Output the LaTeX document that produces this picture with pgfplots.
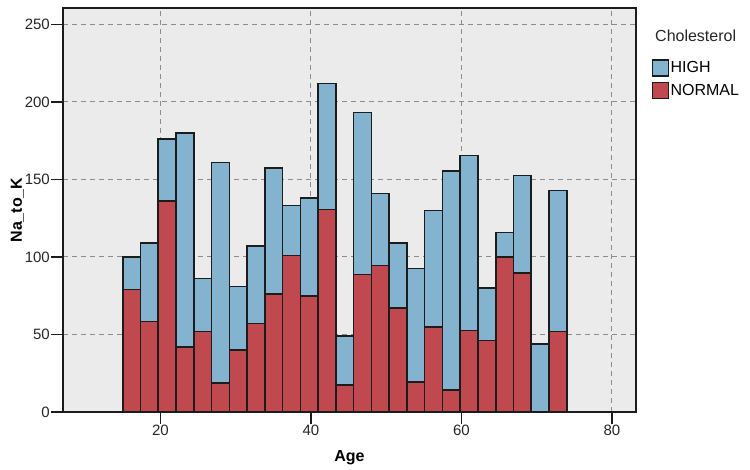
\documentclass[border=0pt]{standalone}
\usepackage{fontspec}
\setmainfont{Liberation Sans}
\usepackage{pgfplots}
\usepackage{pgfplotstable}
\pgfplotsset{compat=1.18}
\definecolor{hiblue}{RGB}{132,179,208}
\definecolor{normred}{RGB}{192,72,79}
\definecolor{bggray}{RGB}{235,235,235}
\definecolor{edge}{RGB}{28,28,28}
\definecolor{gridc}{RGB}{140,140,140}
\pgfplotstableread{
x      normal high
16.18  79     21
18.54  58.5   50.5
20.90  136    40
23.26  42     138
25.62  52     34
27.98  18.7   142.3
30.34  40     41
32.70  57     50
35.06  76     81.5
37.42  101    32.3
39.78  75     63
42.14  130.5  81.5
44.50  17.6   31.4
46.86  88.6   104.7
49.22  94.4   46.6
51.58  67     42
53.94  19.5   73
56.30  55     75
58.66  14     141.5
61.02  52.6   112.8
63.38  46     34
65.74  100    15.7
68.10  89.7   62.9
70.46  0      44
72.82  52     91
}\agedata
\begin{document}
\begin{tikzpicture}
\path[use as bounding box] (0,0) rectangle (750pt,469pt);
\begin{axis}[
  at={(63pt,57pt)}, anchor=south west,
  width=573pt, height=404pt, scale only axis,
  xmin=7.06, xmax=83.2, ymin=0, ymax=260.6,
  ybar stacked, bar width=2.36,
  axis background/.style={fill=bggray},
  axis line style={draw=edge, line width=1.4pt},
  xtick={20,40,60,80}, ytick={0,50,100,150,200,250},
  tick align=outside, tick pos=left,
  major tick length=12pt,
  tick style={draw=edge, line width=1.4pt},
  grid=major,
  major grid style={draw=gridc, line width=1pt, dash pattern=on 5pt off 4pt},
  /pgf/number format/assume math mode=true,
  ticklabel style={font=\fontsize{15}{18}\selectfont, text=black!85},
  yticklabel style={inner sep=1pt},
  xticklabel style={inner sep=1pt},
  xlabel={\textbf{Age}},
  ylabel={\textbf{Na\_to\_K}},
  label style={font=\fontsize{16}{19}\selectfont},
  xlabel style={at={(axis description cs:0.5,-0.123)}, anchor=base},
  ylabel style={at={(axis description cs:-0.0716,0.5)}, anchor=base, rotate=0},
  legend style={at={(rel axis cs:1.027,0.874)}, anchor=north west, draw=none, fill=none,
    font=\fontsize{16}{18}\selectfont, inner sep=0pt, row sep=5pt,
    nodes={inner sep=1.5pt}},
  legend cell align=left,
  reverse legend,
  legend image code/.code={\draw[#1, line width=1.4pt] (0pt,-8pt) rectangle (16pt,8pt);},
]
\addplot[fill=normred, draw=edge, line width=1.6pt] table[x=x, y=normal] {\agedata};
\addlegendentry{NORMAL}
\addplot[fill=hiblue, draw=edge, line width=1.6pt] table[x=x, y=high] {\agedata};
\addlegendentry{HIGH}
\end{axis}
\node[anchor=base west, inner sep=0pt, font=\fontsize{16}{19}\selectfont, text=black!85] at (655pt,427pt) {Cholesterol};
\end{tikzpicture}
\end{document}
